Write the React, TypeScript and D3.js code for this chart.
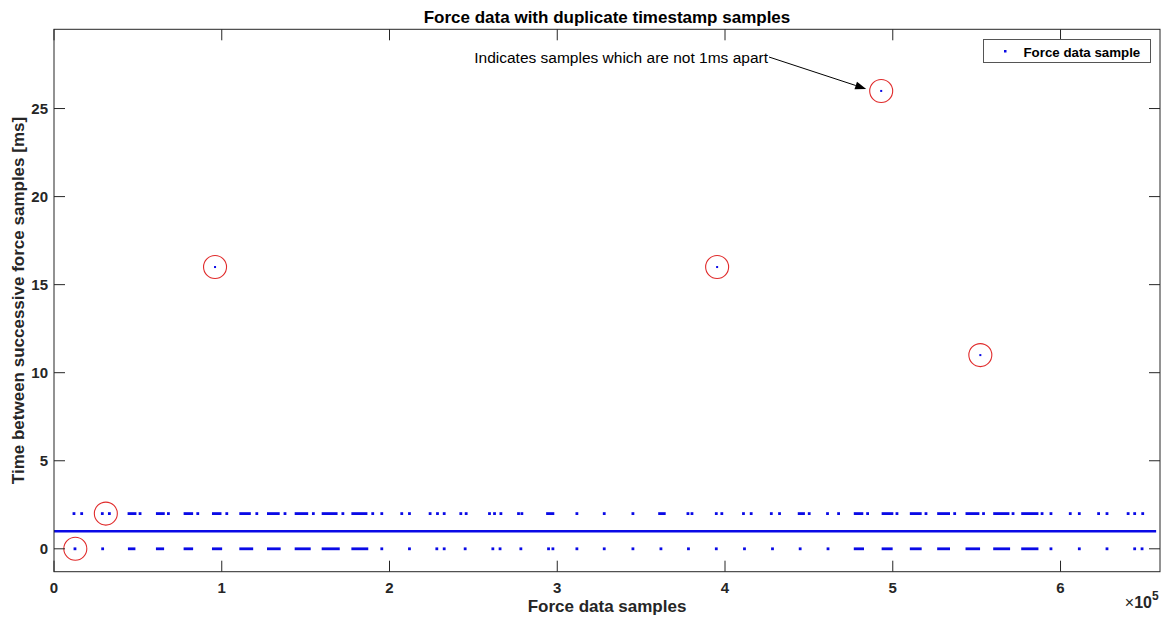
import React from "react";
import * as d3 from "d3";

// ---- data (x values in thousands of samples) ----
const xTickValues = [0, 1, 2, 3, 4, 5, 6]; // ×10^5
const yTickValues = [0, 5, 10, 15, 20, 25];
const X_MAX_K = 659.3;
const Y_DOMAIN: [number, number] = [-1.3, 29.5];
const nominalLine = { y: 1, startK: 0, endK: 657.0 };

// runs of samples with 0 ms between successive samples [startK, endK]
const zeroRuns: [number, number][] = [
  [12.5, 12.5], [29.0, 29.0], [44.9, 47.7], [61.6, 64.8], [78.1, 82.1],
  [95.0, 99.4], [111.3, 117.9], [127.8, 134.3], [144.3, 152.2], [160.4, 169.5],
  [178.1, 186.5], [195.4, 195.4], [211.9, 211.9], [228.2, 228.2], [232.6, 232.6],
  [245.1, 245.1], [261.6, 261.6], [265.9, 265.9], [278.3, 278.3], [294.8, 294.8],
  [297.4, 297.4], [311.7, 311.7], [328.0, 328.0], [345.1, 345.1], [361.8, 361.8],
  [378.2, 378.2], [394.8, 394.8], [411.6, 411.6], [428.3, 428.3], [444.8, 444.8],
  [461.4, 461.4], [477.6, 482.0], [494.2, 499.1], [511.0, 516.4], [527.3, 533.3],
  [544.2, 551.2], [560.7, 569.1], [577.4, 586.0], [594.3, 594.3], [611.2, 611.2],
  [627.7, 627.7], [644.2, 644.2], [648.6, 648.6],
];

// runs of samples with 2 ms between successive samples [startK, endK]
const twoRuns: [number, number][] = [
  [11.9, 11.9], [16.5, 16.5], [28.8, 28.8], [33.0, 33.0],
  [44.7, 48.3], [51.3, 51.3], [61.6, 65.2], [68.2, 68.2], [78.1, 82.1], [85.7, 85.7],
  [95.0, 99.0], [103.0, 103.0], [111.3, 116.5], [120.9, 120.9], [127.8, 133.7], [137.7, 137.7],
  [144.3, 150.7], [154.6, 154.6], [160.4, 168.2], [172.2, 172.2], [178.1, 186.0], [190.0, 190.0],
  [195.4, 195.4], [207.3, 207.3], [211.9, 211.9], [224.2, 224.2], [228.6, 228.6], [232.6, 232.6],
  [242.5, 242.5], [245.7, 245.7], [259.6, 259.6], [262.6, 262.6], [266.4, 266.4],
  [276.9, 276.9], [278.9, 278.9], [294.2, 297.4], [311.7, 311.7], [328.0, 328.0],
  [345.1, 345.1], [361.0, 363.8], [377.9, 377.9], [380.3, 380.3], [394.8, 394.8], [398.1, 398.1],
  [411.0, 411.0], [415.6, 415.6], [427.6, 427.6], [432.5, 432.5], [444.2, 446.8], [450.2, 450.2],
  [461.1, 461.1], [467.7, 467.7], [477.6, 481.6], [485.0, 485.0], [494.2, 499.5], [502.5, 502.5],
  [511.0, 516.4], [519.8, 519.8], [527.3, 533.3], [536.9, 536.9], [544.2, 550.8], [554.1, 554.1],
  [560.7, 568.7], [571.7, 571.7], [577.4, 586.0], [589.0, 589.0], [594.3, 594.3],
  [605.8, 605.8], [611.2, 611.2], [622.7, 622.7], [627.7, 627.7],
  [640.3, 640.3], [644.2, 644.2], [649.0, 649.0],
];

// isolated long gaps
const outliers = [
  { x: 96.0, y: 16 },
  { x: 395.3, y: 16 },
  { x: 493.1, y: 26 },
  { x: 552.2, y: 11 },
];

// red circle markers
const circled = [
  { x: 12.7, y: 0 },
  { x: 30.9, y: 2 },
  { x: 96.0, y: 16 },
  { x: 395.3, y: 16 },
  { x: 493.1, y: 26 },
  { x: 552.2, y: 11 },
];

const titleText = "Force data with duplicate timestamp samples";
const xLabel = "Force data samples";
const yLabel = "Time between successive force samples [ms]";
const annotationText = "Indicates samples which are not 1ms apart";
const legendText = "Force data sample";

// ---- layout ----
const W = 1164;
const H = 621;
const L = 54;
const R = 1160;
const T = 29.3;
const B = 571.7;
const BLUE = "#0a0ae6";
const AX = "#262626";
const FONT = "'Liberation Sans', Arial, sans-serif";

export default function App() {
  const x = d3.scaleLinear().domain([0, X_MAX_K]).range([L, R]);
  const y = d3.scaleLinear().domain(Y_DOMAIN).range([B, T]);
  const tick = 11;

  const runMarks = (runs: [number, number][], yv: number, key: string) =>
    runs.map(([a, b], i) => (
      <line
        key={key + i}
        x1={x(a)}
        x2={x(b)}
        y1={y(yv)}
        y2={y(yv)}
        stroke={BLUE}
        strokeWidth={2.8}
        strokeLinecap="square"
      />
    ));

  const target = outliers[2];
  const tipX = x(target.x) - 15;
  const tipY = y(target.y) - 2;
  const startX = 769;
  const startY = 57;
  const ang = Math.atan2(tipY - startY, tipX - startX);
  const ah = 11;
  const aw = 4;
  const bx = tipX - ah * Math.cos(ang);
  const by = tipY - ah * Math.sin(ang);
  const arrowPts = [
    [tipX, tipY],
    [bx + aw * Math.sin(ang), by - aw * Math.cos(ang)],
    [bx - aw * Math.sin(ang), by + aw * Math.cos(ang)],
  ]
    .map((p) => p.join(","))
    .join(" ");

  return (
    <svg
      width={W}
      height={H}
      style={{ position: "absolute", left: 0, top: 0, background: "#fff" }}
      fontFamily={FONT}
    >
      <rect x={0} y={0} width={W} height={H} fill="#fff" />
      {/* nominal 1 ms line */}
      <line
        x1={x(nominalLine.startK)}
        x2={x(nominalLine.endK)}
        y1={y(nominalLine.y)}
        y2={y(nominalLine.y)}
        stroke={BLUE}
        strokeWidth={2.6}
      />
      {runMarks(zeroRuns, 0, "z")}
      {runMarks(twoRuns, 2, "t")}
      {outliers.map((p, i) => (
        <rect
          key={"o" + i}
          x={x(p.x) - 1}
          y={y(p.y) - 1}
          width={2}
          height={2}
          fill={BLUE}
        />
      ))}
      {circled.map((p, i) => (
        <circle
          key={"c" + i}
          cx={x(p.x)}
          cy={y(p.y)}
          r={11.5}
          fill="none"
          stroke="#e02b2b"
          strokeWidth={1.1}
        />
      ))}

      {/* axes box */}
      <rect x={L} y={T} width={R - L} height={B - T} fill="none" stroke={AX} strokeWidth={1} />
      {xTickValues.map((v) => (
        <g key={"xt" + v}>
          <line x1={x(v * 100)} x2={x(v * 100)} y1={B} y2={B - tick} stroke={AX} />
          <line x1={x(v * 100)} x2={x(v * 100)} y1={T} y2={T + tick} stroke={AX} />
          <text
            x={x(v * 100)}
            y={B + 21}
            textAnchor="middle"
            fontSize={15}
            fontWeight="bold"
            fill={AX}
          >
            {v}
          </text>
        </g>
      ))}
      {yTickValues.map((v) => (
        <g key={"yt" + v}>
          <line x1={L} x2={L + tick} y1={y(v)} y2={y(v)} stroke={AX} />
          <line x1={R} x2={R - tick} y1={y(v)} y2={y(v)} stroke={AX} />
          <text
            x={L - 6}
            y={y(v) + 5}
            textAnchor="end"
            fontSize={15}
            fontWeight="bold"
            fill={AX}
          >
            {v}
          </text>
        </g>
      ))}
      {/* exponent */}
      <text x={1152} y={608} textAnchor="end" fontSize={16} fontWeight="bold" fill={AX}>
        <tspan fontWeight="normal">×</tspan>10
      </text>
      <text x={1152} y={600} fontSize={12} fontWeight="bold" fill={AX}>
        5
      </text>

      {/* labels */}
      <text x={(L + R) / 2} y={22.5} textAnchor="middle" fontSize={17} fontWeight="bold" fill="#000">
        {titleText}
      </text>
      <text x={(L + R) / 2} y={612} textAnchor="middle" fontSize={17} fontWeight="bold" fill={AX}>
        {xLabel}
      </text>
      <text
        transform={`translate(24,${(T + B) / 2}) rotate(-90)`}
        textAnchor="middle"
        fontSize={17}
        fontWeight="bold"
        fill={AX}
      >
        {yLabel}
      </text>

      {/* annotation */}
      <text x={768} y={63} textAnchor="end" fontSize={15.5} fill="#000">
        {annotationText}
      </text>
      <line x1={startX} y1={startY} x2={bx} y2={by} stroke="#000" strokeWidth={1} />
      <polygon points={arrowPts} fill="#000" />

      {/* legend */}
      <rect x={983.5} y={39.5} width={167} height={23} fill="#fff" stroke="#555" strokeWidth={1} />
      <rect x={1004} y={50} width={2.5} height={2.5} fill={BLUE} />
      <text x={1023.5} y={56.5} fontSize={13.3} fontWeight="bold" fill="#000">
        {legendText}
      </text>
    </svg>
  );
}
